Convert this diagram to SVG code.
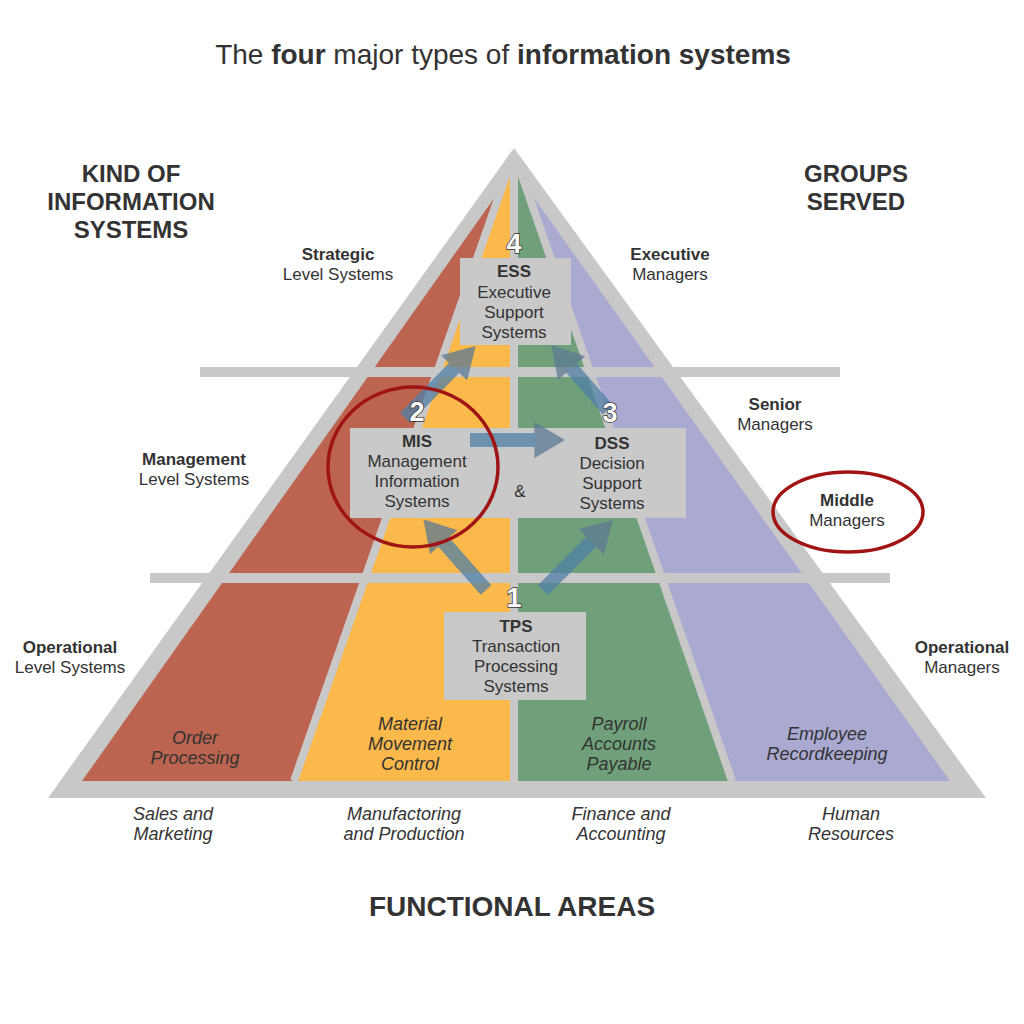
<svg xmlns="http://www.w3.org/2000/svg" width="1024" height="1024" viewBox="0 0 1024 1024">
<style>
text{font-family:"Liberation Sans",Arial,sans-serif;fill:#333;text-anchor:middle}
.b{font-weight:bold}
.l{font-size:17px}
.i{font-size:18px;font-style:italic}
.h{font-size:24px;font-weight:bold}
.box{fill:#C9C9C9}
.num{font-size:27px;font-weight:bold;fill:#fff;stroke:#333;stroke-width:1.5;paint-order:stroke}
.arr{stroke:#4F7FA6;stroke-width:14;opacity:0.75;marker-end:url(#ah)}
.ring{fill:none;stroke:#A01414;stroke-width:3.5}
</style>
<defs>
<marker id="ah" markerWidth="2.2" markerHeight="2.6" refX="0.4" refY="1.3" orient="auto"><path d="M0,0 L2.2,1.3 L0,2.6 Z" fill="#5C7A94"/></marker>
<clipPath id="inner"><polygon points="514,170 82,781 950,781"/></clipPath>
</defs>
<rect width="1024" height="1024" fill="#fff"/>
<text x="503" y="64" style="font-size:28px">The <tspan class="b">four</tspan> major types of <tspan class="b">information systems</tspan></text>
<g id="pyramid">
<polygon points="514,148 48,798 986,798" fill="#C8C8C8"/>
<g clip-path="url(#inner)">
<polygon points="0,170 514,170 514,790 0,790" fill="#BC6450"/>
<polygon points="506,170 514,170 514,790 294,790" fill="#FBB84B"/>
<polygon points="514,170 522,170 732,790 514,790" fill="#6FA07A"/>
<polygon points="522,170 1000,170 1000,790 732,790" fill="#A9A9D1"/>
</g>
<g stroke="#C8C8C8" stroke-width="8">
<line x1="294" y1="781" x2="508" y2="170"/>
<line x1="514" y1="170" x2="514" y2="785"/>
<line x1="732" y1="781" x2="520" y2="170"/>
</g>
<rect x="200" y="367" width="640" height="10" fill="#C8C8C8"/>
<rect x="150" y="573" width="740" height="10" fill="#C8C8C8"/>
</g>
<g id="ess"><rect class="box" x="460" y="258" width="111" height="87"/>
<text x="514" y="277" class="l b">ESS</text><text x="514" y="298" class="l">Executive</text><text x="514" y="318" class="l">Support</text><text x="514" y="338" class="l">Systems</text></g>
<g id="misdss"><rect class="box" x="350" y="428" width="336" height="90"/>
<text x="417" y="447" class="l b">MIS</text><text x="417" y="467" class="l">Management</text><text x="417" y="487" class="l">Information</text><text x="417" y="507" class="l">Systems</text>
<text x="520" y="497" class="l">&amp;</text>
<text x="612" y="449" class="l b">DSS</text><text x="612" y="469" class="l">Decision</text><text x="612" y="489" class="l">Support</text><text x="612" y="509" class="l">Systems</text></g>
<g id="tps"><rect class="box" x="444" y="612" width="142" height="88"/>
<text x="516" y="632" class="l b">TPS</text><text x="516" y="652" class="l">Transaction</text><text x="516" y="672" class="l">Processing</text><text x="516" y="692" class="l">Systems</text></g>
<g id="connectors">
<line class="arr" x1="486" y1="590" x2="440" y2="538"/>
<line class="arr" x1="543" y1="590" x2="595" y2="538"/>
<line class="arr" x1="470" y1="440" x2="540" y2="440"/>
<line class="arr" x1="405" y1="418" x2="458" y2="364"/>
<line class="arr" x1="608" y1="410" x2="568" y2="364"/>
</g>
<g id="numbers">
<text x="514" y="253" class="num">4</text>
<text x="417" y="421" class="num">2</text>
<text x="610" y="422" class="num">3</text>
<text x="514" y="607" class="num">1</text>
</g>
<ellipse class="ring" cx="413" cy="467" rx="85" ry="80"/>
<ellipse class="ring" cx="848" cy="512" rx="75" ry="40"/>
<g id="left-labels">
<text x="131" y="182" class="h">KIND OF</text><text x="131" y="210" class="h">INFORMATION</text><text x="131" y="238" class="h">SYSTEMS</text>
<text x="338" y="260" class="l b">Strategic</text><text x="338" y="280" class="l">Level Systems</text>
<text x="194" y="465" class="l b">Management</text><text x="194" y="485" class="l">Level Systems</text>
<text x="70" y="653" class="l b">Operational</text><text x="70" y="673" class="l">Level Systems</text>
</g>
<g id="right-labels">
<text x="856" y="182" class="h">GROUPS</text><text x="856" y="210" class="h">SERVED</text>
<text x="670" y="260" class="l b">Executive</text><text x="670" y="280" class="l">Managers</text>
<text x="775" y="410" class="l b">Senior</text><text x="775" y="430" class="l">Managers</text>
<text x="847" y="506" class="l b">Middle</text><text x="847" y="526" class="l">Managers</text>
<text x="962" y="653" class="l b">Operational</text><text x="962" y="673" class="l">Managers</text>
</g>
<g id="areas">
<text x="195" y="744" class="i">Order</text><text x="195" y="764" class="i">Processing</text>
<text x="410" y="730" class="i">Material</text><text x="410" y="750" class="i">Movement</text><text x="410" y="770" class="i">Control</text>
<text x="619" y="730" class="i">Payroll</text><text x="619" y="750" class="i">Accounts</text><text x="619" y="770" class="i">Payable</text>
<text x="827" y="740" class="i">Employee</text><text x="827" y="760" class="i">Recordkeeping</text>
<text x="173" y="820" class="i">Sales and</text><text x="173" y="840" class="i">Marketing</text>
<text x="404" y="820" class="i">Manufactoring</text><text x="404" y="840" class="i">and Production</text>
<text x="621" y="820" class="i">Finance and</text><text x="621" y="840" class="i">Accounting</text>
<text x="851" y="820" class="i">Human</text><text x="851" y="840" class="i">Resources</text>
<text x="512" y="916" style="font-size:28px;font-weight:bold">FUNCTIONAL AREAS</text>
</g>
</svg>
